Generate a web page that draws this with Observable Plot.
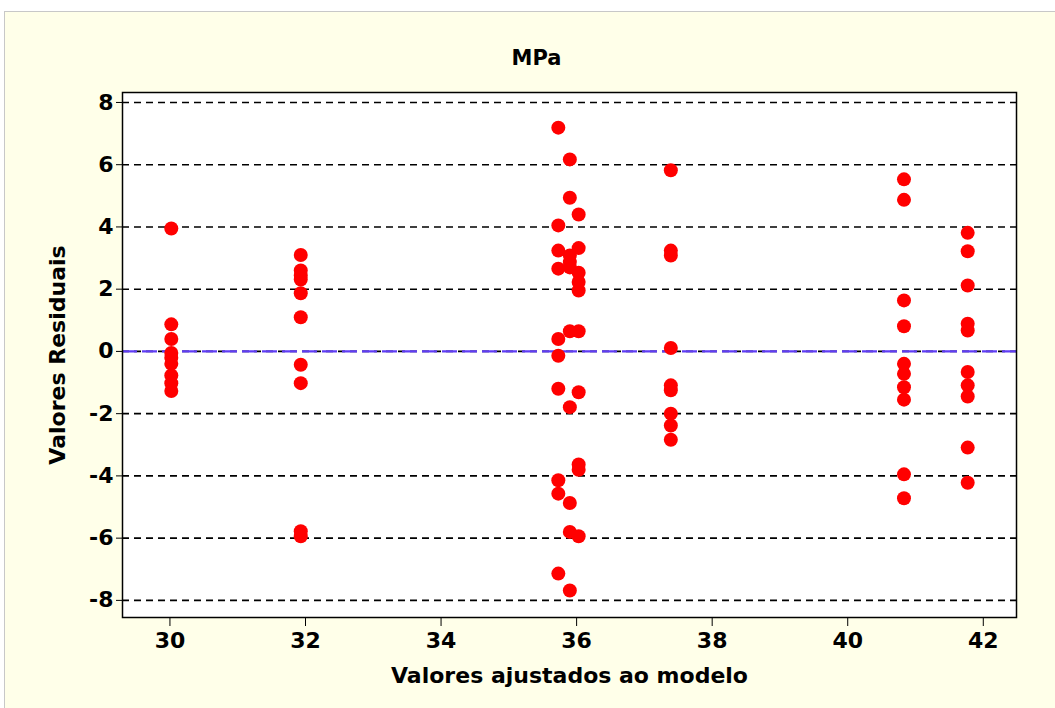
<!DOCTYPE html>
<html>
<head>
<meta charset="utf-8">
<script src="https://cdn.jsdelivr.net/npm/d3@7"></script>
<script src="https://cdn.jsdelivr.net/npm/@observablehq/plot@0.6"></script>
<style>
  body { margin: 0; background: #ffffff; }
  #page { position: relative; width: 1055px; height: 708px; overflow: hidden; }
  #bg { position: absolute; left: 4px; top: 11px; right: 0; bottom: 0; background: #ffffe9; border-left: 1px solid #c8c8c8; border-top: 1px solid #c8c8c8; }
  #title { position: absolute; left: 16px; width: 1041px; top: 46px; text-align: center; font-family: "DejaVu Sans", sans-serif; font-weight: bold; font-size: 21px; color: #000; }
  #chart { position: absolute; left: 0; top: 90px; }
</style>
</head>
<body>
<div id="page">
  <div id="bg"></div>
  <div id="title">MPa</div>
  <div id="chart"></div>
</div>
<script>
// Fitted values (x) of each group
const fittedGroups = [30.02, 31.93, 35.73, 35.90, 36.03, 37.39, 40.83, 41.77];
// Residuals for each group
const resid_30_02 = [3.95, 0.87, 0.40, -0.05, -0.2, -0.40, -0.77, -1.02, -1.27];
const resid_31_93 = [3.10, 2.60, 2.44, 2.31, 1.87, 1.10, -0.43, -1.02, -5.78, -5.94];
const resid_35_73 = [7.19, 4.05, 3.24, 2.66, 0.40, -0.14, -1.20, -4.14, -4.57, -7.14];
const resid_35_90 = [6.17, 4.94, 3.08, 2.87, 2.70, 0.65, -1.79, -4.87, -5.80, -7.68];
const resid_36_03 = [4.40, 3.32, 2.53, 2.23, 1.96, 0.65, -1.31, -3.63, -3.80, -5.94];
const resid_37_39 = [5.82, 3.24, 3.08, 0.11, -1.09, -1.25, -2.00, -2.38, -2.84];
const resid_40_83 = [5.53, 4.87, 1.64, 0.81, -0.40, -0.72, -1.15, -1.55, -3.95, -4.72];
const resid_41_77 = [3.81, 3.22, 2.12, 0.89, 0.67, -0.66, -1.09, -1.45, -3.09, -4.22];

const residGroups = [resid_30_02, resid_31_93, resid_35_73, resid_35_90, resid_36_03, resid_37_39, resid_40_83, resid_41_77];

const xTicks = [30, 32, 34, 36, 38, 40, 42];
const yTicks = [-8, -6, -4, -2, 0, 2, 4, 6, 8];
const gridTicks = [-8, -6, -4, -2, 2, 4, 6, 8];

const data = fittedGroups.flatMap((fx, i) => residGroups[i].map(r => ({fitted: fx, residual: r})));

const chart = Plot.plot({
  width: 1055,
  height: 618,
  marginTop: 2,
  marginBottom: 91,
  marginLeft: 122,
  marginRight: 39,
  style: { fontFamily: "DejaVu Sans, sans-serif", fontWeight: "bold", fontSize: "22px", background: "transparent", color: "#000" },
  x: { domain: [29.3, 42.49] },
  y: { domain: [-8.55, 8.32] },
  marks: [
    Plot.frame({ fill: "white", stroke: null }),
    Plot.ruleY(gridTicks, { stroke: "black", strokeWidth: 1.6, strokeDasharray: "7,5" }),
    Plot.ruleY([0], { stroke: "black", strokeWidth: 1.6, strokeDasharray: "7,5" }),
    Plot.ruleY([0], { stroke: "#5f3cf5", strokeWidth: 2.2, strokeDasharray: "15,5" }),
    Plot.dot(data, { x: "fitted", y: "residual", r: 7, fill: "#ff0000", stroke: null }),
    Plot.frame({ stroke: "black", strokeWidth: 1.5 }),
    Plot.axisX({ ticks: xTicks, tickSize: 9, tickPadding: 6, tickFormat: d => String(d), fontSize: 22, label: "Valores ajustados ao modelo", labelAnchor: "center", labelArrow: "none", labelOffset: 65 }),
    Plot.axisY({ ticks: yTicks, tickSize: 6, tickPadding: 3, tickFormat: d => d < 0 ? "-" + Math.abs(d) : String(d), fontSize: 22, label: "Valores Residuais", labelAnchor: "center", labelArrow: "none", labelOffset: 73 })
  ]
});
document.getElementById("chart").appendChild(chart);
</script>
</body>
</html>
